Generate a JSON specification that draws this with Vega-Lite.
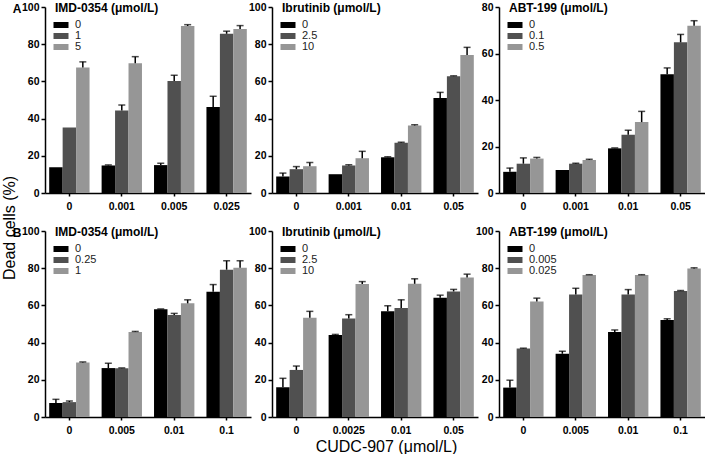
{
  "$schema": "https://vega.github.io/schema/vega-lite/v6.json",
  "padding": {"left": 2, "top": 2, "right": 0, "bottom": 0},
  "title": {"text": "Dead cells (%)", "orient": "left", "anchor": "middle", "font": "Liberation Sans", "fontSize": 16, "fontWeight": "normal", "color": "#000", "offset": -6},
  "data": {"values": [
    {"p": "A1", "g": "0", "s": "0", "v": 13.8, "hi": null},
    {"p": "A1", "g": "0", "s": "1", "v": 35.2, "hi": null},
    {"p": "A1", "g": "0", "s": "5", "v": 67.5, "hi": 70.5},
    {"p": "A1", "g": "0.001", "s": "0", "v": 14.8, "hi": 15.1},
    {"p": "A1", "g": "0.001", "s": "1", "v": 44.3, "hi": 47.3},
    {"p": "A1", "g": "0.001", "s": "5", "v": 69.8, "hi": 73.3},
    {"p": "A1", "g": "0.005", "s": "0", "v": 15.0, "hi": 16.0},
    {"p": "A1", "g": "0.005", "s": "1", "v": 60.2, "hi": 63.3},
    {"p": "A1", "g": "0.005", "s": "5", "v": 89.8, "hi": 90.5},
    {"p": "A1", "g": "0.025", "s": "0", "v": 46.3, "hi": 52.0},
    {"p": "A1", "g": "0.025", "s": "1", "v": 85.6, "hi": 87.0},
    {"p": "A1", "g": "0.025", "s": "5", "v": 88.2, "hi": 90.0},

    {"p": "A2", "g": "0", "s": "0", "v": 8.9, "hi": 10.7},
    {"p": "A2", "g": "0", "s": "2.5", "v": 12.8, "hi": 14.2},
    {"p": "A2", "g": "0", "s": "10", "v": 14.4, "hi": 16.4},
    {"p": "A2", "g": "0.001", "s": "0", "v": 10.1, "hi": null},
    {"p": "A2", "g": "0.001", "s": "2.5", "v": 14.8, "hi": 15.2},
    {"p": "A2", "g": "0.001", "s": "10", "v": 18.7, "hi": 22.4},
    {"p": "A2", "g": "0.01", "s": "0", "v": 19.2, "hi": 19.5},
    {"p": "A2", "g": "0.01", "s": "2.5", "v": 27.0, "hi": 27.3},
    {"p": "A2", "g": "0.01", "s": "10", "v": 36.3, "hi": 36.7},
    {"p": "A2", "g": "0.05", "s": "0", "v": 51.1, "hi": 54.1},
    {"p": "A2", "g": "0.05", "s": "2.5", "v": 62.8, "hi": 63.0},
    {"p": "A2", "g": "0.05", "s": "10", "v": 74.2, "hi": 78.3},

    {"p": "A3", "g": "0", "s": "0", "v": 9.1, "hi": 10.7},
    {"p": "A3", "g": "0", "s": "0.1", "v": 12.6, "hi": 15.1},
    {"p": "A3", "g": "0", "s": "0.5", "v": 14.8, "hi": 15.3},
    {"p": "A3", "g": "0.001", "s": "0", "v": 9.9, "hi": null},
    {"p": "A3", "g": "0.001", "s": "0.1", "v": 12.6, "hi": 12.8},
    {"p": "A3", "g": "0.001", "s": "0.5", "v": 14.2, "hi": 14.5},
    {"p": "A3", "g": "0.01", "s": "0", "v": 19.2, "hi": 19.4},
    {"p": "A3", "g": "0.01", "s": "0.1", "v": 25.1, "hi": 27.0},
    {"p": "A3", "g": "0.01", "s": "0.5", "v": 30.5, "hi": 35.1},
    {"p": "A3", "g": "0.05", "s": "0", "v": 51.1, "hi": 53.8},
    {"p": "A3", "g": "0.05", "s": "0.1", "v": 64.8, "hi": 68.2},
    {"p": "A3", "g": "0.05", "s": "0.5", "v": 71.9, "hi": 74.1},

    {"p": "B1", "g": "0", "s": "0", "v": 7.5, "hi": 9.5},
    {"p": "B1", "g": "0", "s": "0.25", "v": 8.0, "hi": 8.6},
    {"p": "B1", "g": "0", "s": "1", "v": 29.3, "hi": 29.6},
    {"p": "B1", "g": "0.005", "s": "0", "v": 26.3, "hi": 28.9},
    {"p": "B1", "g": "0.005", "s": "0.25", "v": 26.2, "hi": 26.4},
    {"p": "B1", "g": "0.005", "s": "1", "v": 45.7, "hi": 46.0},
    {"p": "B1", "g": "0.01", "s": "0", "v": 57.9, "hi": 58.1},
    {"p": "B1", "g": "0.01", "s": "0.25", "v": 54.8, "hi": 55.7},
    {"p": "B1", "g": "0.01", "s": "1", "v": 61.1, "hi": 63.0},
    {"p": "B1", "g": "0.1", "s": "0", "v": 67.3, "hi": 71.2},
    {"p": "B1", "g": "0.1", "s": "0.25", "v": 79.2, "hi": 84.0},
    {"p": "B1", "g": "0.1", "s": "1", "v": 80.3, "hi": 84.0},

    {"p": "B2", "g": "0", "s": "0", "v": 16.0, "hi": 20.8},
    {"p": "B2", "g": "0", "s": "2.5", "v": 25.3, "hi": 27.4},
    {"p": "B2", "g": "0", "s": "10", "v": 53.4, "hi": 56.8},
    {"p": "B2", "g": "0.0025", "s": "0", "v": 44.1, "hi": 44.4},
    {"p": "B2", "g": "0.0025", "s": "2.5", "v": 53.0, "hi": 55.0},
    {"p": "B2", "g": "0.0025", "s": "10", "v": 71.5, "hi": 72.8},
    {"p": "B2", "g": "0.01", "s": "0", "v": 56.8, "hi": 59.8},
    {"p": "B2", "g": "0.01", "s": "2.5", "v": 58.6, "hi": 63.0},
    {"p": "B2", "g": "0.01", "s": "10", "v": 71.6, "hi": 74.3},
    {"p": "B2", "g": "0.05", "s": "0", "v": 64.1, "hi": 65.5},
    {"p": "B2", "g": "0.05", "s": "2.5", "v": 67.5, "hi": 68.6},
    {"p": "B2", "g": "0.05", "s": "10", "v": 75.0, "hi": 76.8},

    {"p": "B3", "g": "0", "s": "0", "v": 15.8, "hi": 19.8},
    {"p": "B3", "g": "0", "s": "0.005", "v": 36.8, "hi": 37.0},
    {"p": "B3", "g": "0", "s": "0.025", "v": 62.1, "hi": 63.9},
    {"p": "B3", "g": "0.005", "s": "0", "v": 34.0, "hi": 35.4},
    {"p": "B3", "g": "0.005", "s": "0.005", "v": 65.8, "hi": 69.2},
    {"p": "B3", "g": "0.005", "s": "0.025", "v": 76.3, "hi": 76.5},
    {"p": "B3", "g": "0.01", "s": "0", "v": 45.7, "hi": 46.8},
    {"p": "B3", "g": "0.01", "s": "0.005", "v": 65.8, "hi": 68.5},
    {"p": "B3", "g": "0.01", "s": "0.025", "v": 76.3, "hi": 76.5},
    {"p": "B3", "g": "0.1", "s": "0", "v": 52.1, "hi": 52.8},
    {"p": "B3", "g": "0.1", "s": "0.005", "v": 67.8, "hi": 68.0},
    {"p": "B3", "g": "0.1", "s": "0.025", "v": 79.9, "hi": 80.2}
  ]},
  "bounds": "flush",
  "columns": 3,
  "spacing": {"row": 38, "column": 21},
  "resolve": {"scale": {"color": "independent", "xOffset": "independent"}, "legend": {"color": "independent"}},
  "concat": [
    {
      "width": 206, "height": 186,
      "transform": [{"filter": "datum.p == 'A1'"}],
      "encoding": {
        "x": {"field": "g", "type": "nominal", "sort": null, "scale": {"paddingInner": 0.23, "paddingOuter": 0.08}, "axis": {"title": null}},
        "xOffset": {"field": "s", "type": "nominal", "sort": null, "scale": {"paddingInner": 0, "paddingOuter": 0}}
      },
      "layer": [
        {"mark": {"type": "bar"}, "encoding": {
          "y": {"field": "v", "type": "quantitative", "scale": {"domain": [0, 100], "nice": false}, "axis": {"values": [0, 20, 40, 60, 80, 100], "tickCount": 12, "title": "A", "titleAngle": 0, "titleAlign": "right", "titleBaseline": "middle", "titleX": -24, "titleY": 1, "titleFontSize": 12, "titleFontWeight": "bold"}},
          "color": {"field": "s", "type": "nominal", "sort": null, "scale": {"range": ["#000000", "#505050", "#969696"]}, "legend": {"title": "IMD-0354 (μmol/L)"}}}},
        {"transform": [{"filter": "datum.hi != null"}], "mark": {"type": "rule", "color": "#000", "strokeWidth": 1.5}, "encoding": {"y": {"field": "v", "type": "quantitative"}, "y2": {"field": "hi"}}},
        {"transform": [{"filter": "datum.hi != null"}], "mark": {"type": "tick", "orient": "horizontal", "color": "#000", "thickness": 1.5, "size": 7}, "encoding": {"y": {"field": "hi", "type": "quantitative", "axis": {"title": "A", "titleAngle": 0, "titleAlign": "right", "titleBaseline": "middle", "titleX": -24, "titleY": 1, "titleFontSize": 12, "titleFontWeight": "bold"}}}}
      ]
    },
    {
      "width": 206, "height": 186,
      "transform": [{"filter": "datum.p == 'A2'"}],
      "encoding": {
        "x": {"field": "g", "type": "nominal", "sort": null, "scale": {"paddingInner": 0.23, "paddingOuter": 0.08}, "axis": {"title": null}},
        "xOffset": {"field": "s", "type": "nominal", "sort": null, "scale": {"paddingInner": 0, "paddingOuter": 0}}
      },
      "layer": [
        {"mark": {"type": "bar"}, "encoding": {
          "y": {"field": "v", "type": "quantitative", "scale": {"domain": [0, 100], "nice": false}, "axis": {"values": [0, 20, 40, 60, 80, 100], "tickCount": 12, "title": null}},
          "color": {"field": "s", "type": "nominal", "sort": null, "scale": {"range": ["#000000", "#505050", "#969696"]}, "legend": {"title": "Ibrutinib (μmol/L)"}}}},
        {"transform": [{"filter": "datum.hi != null"}], "mark": {"type": "rule", "color": "#000", "strokeWidth": 1.5}, "encoding": {"y": {"field": "v", "type": "quantitative"}, "y2": {"field": "hi"}}},
        {"transform": [{"filter": "datum.hi != null"}], "mark": {"type": "tick", "orient": "horizontal", "color": "#000", "thickness": 1.5, "size": 7}, "encoding": {"y": {"field": "hi", "type": "quantitative", "axis": {"title": null}}}}
      ]
    },
    {
      "width": 206, "height": 186,
      "transform": [{"filter": "datum.p == 'A3'"}],
      "encoding": {
        "x": {"field": "g", "type": "nominal", "sort": null, "scale": {"paddingInner": 0.23, "paddingOuter": 0.08}, "axis": {"title": null}},
        "xOffset": {"field": "s", "type": "nominal", "sort": null, "scale": {"paddingInner": 0, "paddingOuter": 0}}
      },
      "layer": [
        {"mark": {"type": "bar"}, "encoding": {
          "y": {"field": "v", "type": "quantitative", "scale": {"domain": [0, 80], "nice": false}, "axis": {"values": [0, 20, 40, 60, 80], "tickCount": 12, "title": null}},
          "color": {"field": "s", "type": "nominal", "sort": null, "scale": {"range": ["#000000", "#505050", "#969696"]}, "legend": {"title": "ABT-199 (μmol/L)"}}}},
        {"transform": [{"filter": "datum.hi != null"}], "mark": {"type": "rule", "color": "#000", "strokeWidth": 1.5}, "encoding": {"y": {"field": "v", "type": "quantitative"}, "y2": {"field": "hi"}}},
        {"transform": [{"filter": "datum.hi != null"}], "mark": {"type": "tick", "orient": "horizontal", "color": "#000", "thickness": 1.5, "size": 7}, "encoding": {"y": {"field": "hi", "type": "quantitative", "axis": {"title": null}}}}
      ]
    },
    {
      "width": 206, "height": 186,
      "transform": [{"filter": "datum.p == 'B1'"}],
      "encoding": {
        "x": {"field": "g", "type": "nominal", "sort": null, "scale": {"paddingInner": 0.23, "paddingOuter": 0.08}, "axis": {"title": null}},
        "xOffset": {"field": "s", "type": "nominal", "sort": null, "scale": {"paddingInner": 0, "paddingOuter": 0}}
      },
      "layer": [
        {"mark": {"type": "bar"}, "encoding": {
          "y": {"field": "v", "type": "quantitative", "scale": {"domain": [0, 100], "nice": false}, "axis": {"values": [0, 20, 40, 60, 80, 100], "tickCount": 12, "title": "B", "titleAngle": 0, "titleAlign": "right", "titleBaseline": "middle", "titleX": -24, "titleY": 1, "titleFontSize": 12, "titleFontWeight": "bold"}},
          "color": {"field": "s", "type": "nominal", "sort": null, "scale": {"range": ["#000000", "#505050", "#969696"]}, "legend": {"title": "IMD-0354 (μmol/L)"}}}},
        {"transform": [{"filter": "datum.hi != null"}], "mark": {"type": "rule", "color": "#000", "strokeWidth": 1.5}, "encoding": {"y": {"field": "v", "type": "quantitative"}, "y2": {"field": "hi"}}},
        {"transform": [{"filter": "datum.hi != null"}], "mark": {"type": "tick", "orient": "horizontal", "color": "#000", "thickness": 1.5, "size": 7}, "encoding": {"y": {"field": "hi", "type": "quantitative", "axis": {"title": "B", "titleAngle": 0, "titleAlign": "right", "titleBaseline": "middle", "titleX": -24, "titleY": 1, "titleFontSize": 12, "titleFontWeight": "bold"}}}}
      ]
    },
    {
      "width": 206, "height": 186,
      "transform": [{"filter": "datum.p == 'B2'"}],
      "encoding": {
        "x": {"field": "g", "type": "nominal", "sort": null, "scale": {"paddingInner": 0.23, "paddingOuter": 0.08}, "axis": {"title": "CUDC-907 (μmol/L)", "titleX": 114, "titleY": 29, "titleAlign": "center", "titleBaseline": "middle", "titleFontSize": 16, "titleFontWeight": "normal"}},
        "xOffset": {"field": "s", "type": "nominal", "sort": null, "scale": {"paddingInner": 0, "paddingOuter": 0}}
      },
      "layer": [
        {"mark": {"type": "bar"}, "encoding": {
          "y": {"field": "v", "type": "quantitative", "scale": {"domain": [0, 100], "nice": false}, "axis": {"values": [0, 20, 40, 60, 80, 100], "tickCount": 12, "title": null}},
          "color": {"field": "s", "type": "nominal", "sort": null, "scale": {"range": ["#000000", "#505050", "#969696"]}, "legend": {"title": "Ibrutinib (μmol/L)"}}}},
        {"transform": [{"filter": "datum.hi != null"}], "mark": {"type": "rule", "color": "#000", "strokeWidth": 1.5}, "encoding": {"y": {"field": "v", "type": "quantitative"}, "y2": {"field": "hi"}}},
        {"transform": [{"filter": "datum.hi != null"}], "mark": {"type": "tick", "orient": "horizontal", "color": "#000", "thickness": 1.5, "size": 7}, "encoding": {"y": {"field": "hi", "type": "quantitative", "axis": {"title": null}}}}
      ]
    },
    {
      "width": 206, "height": 186,
      "transform": [{"filter": "datum.p == 'B3'"}],
      "encoding": {
        "x": {"field": "g", "type": "nominal", "sort": null, "scale": {"paddingInner": 0.23, "paddingOuter": 0.08}, "axis": {"title": null}},
        "xOffset": {"field": "s", "type": "nominal", "sort": null, "scale": {"paddingInner": 0, "paddingOuter": 0}}
      },
      "layer": [
        {"mark": {"type": "bar"}, "encoding": {
          "y": {"field": "v", "type": "quantitative", "scale": {"domain": [0, 100], "nice": false}, "axis": {"values": [0, 20, 40, 60, 80, 100], "tickCount": 12, "title": null}},
          "color": {"field": "s", "type": "nominal", "sort": null, "scale": {"range": ["#000000", "#505050", "#969696"]}, "legend": {"title": "ABT-199 (μmol/L)"}}}},
        {"transform": [{"filter": "datum.hi != null"}], "mark": {"type": "rule", "color": "#000", "strokeWidth": 1.5}, "encoding": {"y": {"field": "v", "type": "quantitative"}, "y2": {"field": "hi"}}},
        {"transform": [{"filter": "datum.hi != null"}], "mark": {"type": "tick", "orient": "horizontal", "color": "#000", "thickness": 1.5, "size": 7}, "encoding": {"y": {"field": "hi", "type": "quantitative", "axis": {"title": null}}}}
      ]
    }
  ],
  "config": {
    "view": {"stroke": null},
    "font": "Liberation Sans",
    "axis": {"domainColor": "#000", "domainWidth": 1.5, "tickColor": "#000", "tickWidth": 1.5, "labelColor": "#000", "labelFont": "Liberation Sans", "labelFontWeight": "bold", "labelFontSize": 10.5, "grid": false, "titleFont": "Liberation Sans", "titleColor": "#000"},
    "axisY": {"tickSize": 4, "labelPadding": 2, "labelOverlap": false, "tickCount": 12},
    "axisX": {"tickSize": 3, "labelPadding": 5, "labelAngle": 0},
    "legend": {"orient": "none", "legendX": 10, "legendY": -4, "titleFont": "Liberation Sans", "titleFontSize": 12, "titleFontWeight": "bold", "titleColor": "#000", "labelFont": "Liberation Sans", "labelFontSize": 11, "labelColor": "#222", "symbolType": "M-1.25,-0.5L1.25,-0.5L1.25,0.5L-1.25,0.5Z", "symbolSize": 144, "symbolStrokeWidth": 0, "rowPadding": 0, "titlePadding": 4, "labelOffset": 8}
  }
}
